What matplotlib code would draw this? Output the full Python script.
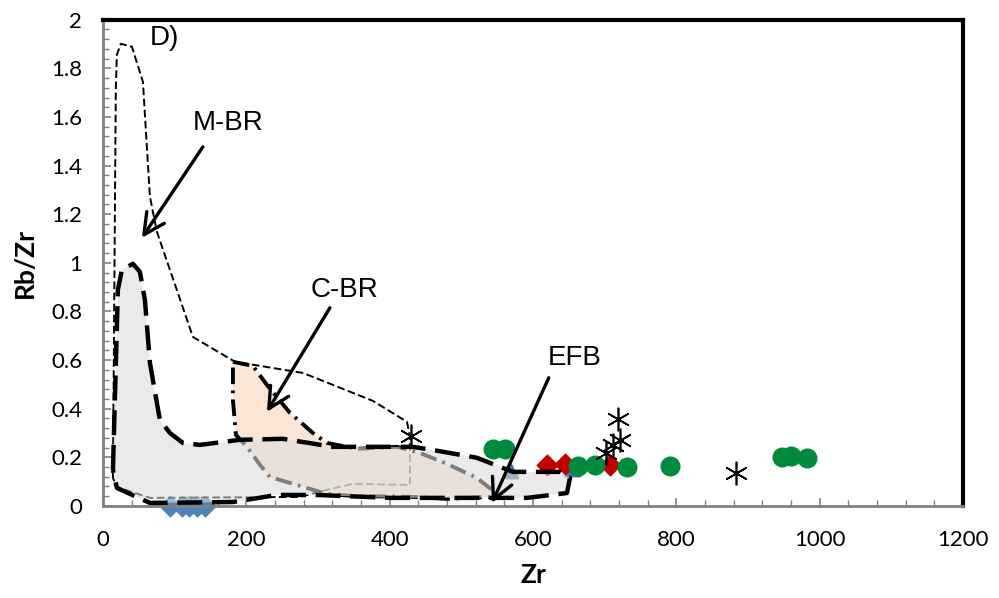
import numpy as np
import matplotlib
matplotlib.use("Agg")
import matplotlib.pyplot as plt
from matplotlib.ticker import MultipleLocator, FuncFormatter

plt.rcParams['lines.scale_dashes'] = False

# samples
blue_dia_x = [93, 110, 120, 131, 142]
blue_dia_y = [0.0, 0.0, 0.0, 0.0, 0.0]
blue_tri_x = [568, 654]
blue_tri_y = [0.148, 0.156]
red_x = [619, 645, 707]
red_y = [0.169, 0.173, 0.169]
green_x = [544, 561, 663, 686, 731, 791, 947, 960, 982]
green_y = [0.235, 0.235, 0.165, 0.169, 0.160, 0.165, 0.203, 0.206, 0.197]
star_x = [430, 702, 712, 721, 719, 883]
star_y = [0.288, 0.218, 0.251, 0.272, 0.358, 0.136]

# field outlines
mbr_x = [14, 18, 19.5, 25, 40.5, 55.8, 65.6, 75.3, 125.6, 184.2, 279.1, 376.7, 424.2,
         428.4, 428.4, 348.8, 312.5, 274.9, 65.6, 19.5, 14]
mbr_y = [0.115, 1.712, 1.856, 1.901, 1.889, 1.745, 1.272, 1.128, 0.695, 0.593, 0.547,
         0.432, 0.346, 0.284, 0.086, 0.091, 0.066, 0.037, 0.033, 0.078, 0.115]

cbr_x = [181.4, 209.3, 228.8, 260.9, 293.0, 312.5, 354.4, 410.2, 442.3, 480.0, 521.8,
         542.8, 540.0, 480.0, 432.5, 348.8, 312.5, 270.7, 233.0, 219.1, 200.9, 185.6,
         181.4, 181.4]
cbr_y = [0.593, 0.576, 0.498, 0.383, 0.300, 0.259, 0.235, 0.243, 0.218, 0.173, 0.115,
         0.066, 0.037, 0.029, 0.037, 0.041, 0.049, 0.086, 0.119, 0.169, 0.243, 0.292,
         0.436, 0.593]

efb_x = [14.0, 20.9, 26.5, 41.9, 51.6, 58.6, 65.6, 79.5, 93.5, 111.6, 135.3, 191.2,
         251.2, 320.9, 432.5, 460.4, 521.8, 572.1, 637.6, 651.6, 647.4, 591.6, 484.2,
         400.4, 298.6, 242.8, 181.4, 65.6, 19.5, 14.0]
efb_y = [0.148, 0.889, 0.971, 0.996, 0.963, 0.848, 0.588, 0.354, 0.300, 0.259, 0.251,
         0.272, 0.276, 0.243, 0.243, 0.230, 0.198, 0.140, 0.140, 0.115, 0.053, 0.033,
         0.033, 0.033, 0.045, 0.045, 0.016, 0.012, 0.074, 0.148]

# labels: text, text position, arrow tail, arrow head
labels = ['M-BR', 'C-BR', 'EFB']
label_pos = [(174.4, 1.576), (337.7, 0.889), (658.6, 0.609)]
arrow_tail = [(139.5, 1.477), (316.7, 0.815), (622.0, 0.527)]
arrow_head = [(54.4, 1.103), (228.8, 0.387), (542.8, 0.012)]

fig = plt.figure(figsize=(9.99, 5.98), dpi=100)
ax = fig.add_axes([0.103, 0.154, 0.861, 0.813])

ax.scatter(blue_dia_x, blue_dia_y, marker='D', s=110, color='#4f81bd', zorder=2, clip_on=False)
ax.scatter(blue_tri_x, blue_tri_y, marker='^', s=140, color='#4a72a8', zorder=2)
ax.scatter(red_x, red_y, marker='D', s=110, color='#c00000', zorder=2)
ax.scatter(green_x, green_y, marker='o', s=180, color='#008a3e', zorder=2)
ax.plot(star_x, star_y, ls='none', marker=(6, 2, 0), ms=17, mew=1.2, color='k', zorder=2)

ax.plot(mbr_x, mbr_y, color='k', lw=1.4, dashes=(5.5, 2.5), zorder=3)

ax.fill(cbr_x, cbr_y, color='#f9d3b5', alpha=0.55, lw=0, zorder=4)
ax.plot(cbr_x, cbr_y, color='k', lw=2.8, dashes=(12, 4.5, 2, 4.5), zorder=5)

ax.fill(efb_x, efb_y, color='#dcdcdc', alpha=0.58, lw=0, zorder=6)
ax.plot(efb_x, efb_y, color='k', lw=3.2, dashes=(18, 7), zorder=7)

for t, p, a, b in zip(labels, label_pos, arrow_tail, arrow_head):
    ax.text(p[0], p[1], t, fontsize=20, family='Liberation Sans', ha='center', va='center', zorder=9)
    ax.annotate('', xy=b, xytext=a, zorder=9,
                arrowprops=dict(arrowstyle='->,head_length=0.75,head_width=0.38',
                                mutation_scale=20, lw=2.4, color='k', shrinkA=0, shrinkB=0))

ax.text(65.6, 1.926, 'D)', fontsize=20, family='Liberation Sans', ha='left', va='center')

ax.set_xlim(0, 1200)
ax.set_ylim(0, 2)
ax.xaxis.set_major_locator(MultipleLocator(200))
ax.xaxis.set_minor_locator(MultipleLocator(40))
ax.yaxis.set_major_locator(MultipleLocator(0.2))
ax.yaxis.set_minor_locator(MultipleLocator(0.04))
ax.yaxis.set_major_formatter(FuncFormatter(lambda v, p: f'{v:g}'))

ax.tick_params(which='both', direction='in', color='#808080', labelsize=16)
ax.tick_params(which='major', length=6, width=1.2)
ax.tick_params(which='minor', length=4, width=1.0)
ax.tick_params(axis='x', pad=17)
ax.tick_params(axis='y', pad=15)
for lab in ax.get_xticklabels() + ax.get_yticklabels():
    lab.set_family('Lato')

for s in ['left', 'bottom']:
    ax.spines[s].set_color('#808080')
    ax.spines[s].set_linewidth(2)
for s in ['top', 'right']:
    ax.spines[s].set_color('k')
    ax.spines[s].set_linewidth(3)

ax.set_xlabel('Zr', fontsize=19, fontweight='bold', family='Lato', labelpad=10)
ax.set_ylabel('Rb/Zr', fontsize=19, fontweight='bold', family='Lato', labelpad=10)

fig.savefig('out.png', dpi=100)
